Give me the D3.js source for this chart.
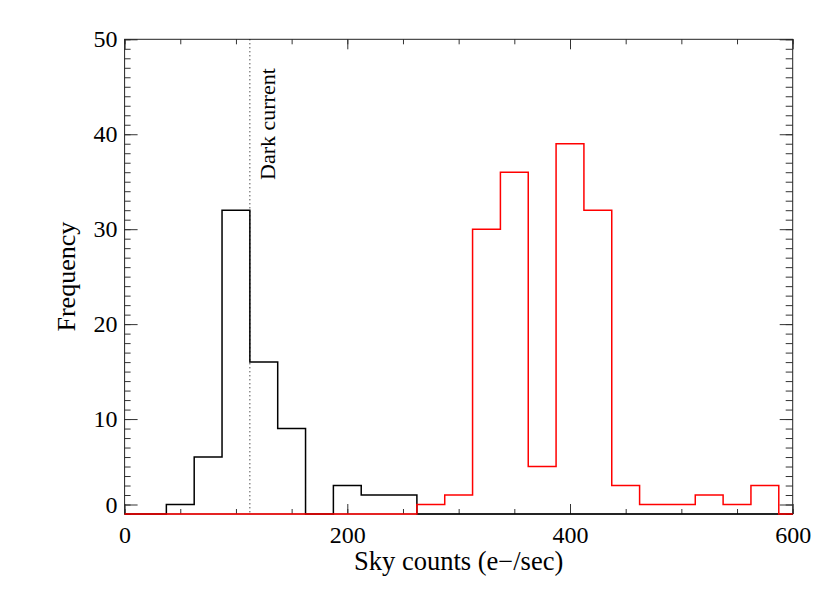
<!DOCTYPE html>
<html lang="en">
  <head>
    <meta charset="UTF-8" />
    <title>Sky counts histogram</title>
    <script src="https://d3js.org/d3.v7.min.js"></script>
    <style>
      body {
        margin: 0;
        padding: 0;
        background-color: #fff;
      }
      text {
        font-family: "Liberation Serif", "DejaVu Serif", serif;
        fill: #000;
      }
    </style>
  </head>
  <body>
    <div id="chart"></div>

    <script>
      // bin centres (e-/sec), every bin is 25 wide
      const binCenters = [25, 50, 75, 100, 125, 150, 175, 200, 225, 250, 275, 300, 325, 350, 375, 400, 425, 450, 475, 500, 525, 550, 575];
      const binWidth = 25;
      const blackCounts = [0, 1, 6, 32, 16, 9, 0, 3, 2, 2, 0, 0, 0, 0, 0, 0, 0, 0, 0, 0, 0, 0, 0];
      const redCounts = [0, 0, 0, 0, 0, 0, 0, 0, 0, 0, 1, 2, 30, 36, 5, 39, 32, 3, 1, 1, 2, 1, 3];
      const darkCurrent = 112.5;

      const xTicks = [0, 200, 400, 600];
      const xTickLabels = ["0", "200", "400", "600"];
      const yTicks = [1, 10, 20, 30, 40, 50];
      const yTickLabels = ["0", "10", "20", "30", "40", "50"];

      const width = 830;
      const height = 593;
      const plotL = 124.6, plotR = 792.7, plotT = 39.3, plotB = 514;

      const svg = d3.select("#chart").append("svg").attr("width", width).attr("height", height);

      const x = d3.scaleLinear().domain([0, 600]).range([plotL, plotR]);
      const y = d3.scaleLinear().domain([0, 50]).range([plotB, plotT]);

      const fontSize = 24;

      // minor ticks
      const xMinor = d3.range(0, 601, 50);
      const yMinor = d3.range(0, 51, 1);

      function styleAxis(g) {
        g.select(".domain").remove();
        g.selectAll(".tick line").attr("stroke", "#333").attr("stroke-width", 1);
        g.selectAll("text").attr("font-size", fontSize).attr("font-family", "Liberation Serif, serif");
      }

      svg.append("g").attr("transform", `translate(0,${plotB})`)
        .call(d3.axisBottom(x).tickValues(xMinor).tickSize(-5).tickFormat(""))
        .call(styleAxis);
      svg.append("g").attr("transform", `translate(0,${plotT})`)
        .call(d3.axisTop(x).tickValues(xMinor).tickSize(-5).tickFormat(""))
        .call(styleAxis);
      svg.append("g").attr("transform", `translate(${plotL},0)`)
        .call(d3.axisLeft(y).tickValues(yMinor).tickSize(-6).tickFormat(""))
        .call(styleAxis);
      svg.append("g").attr("transform", `translate(${plotR},0)`)
        .call(d3.axisRight(y).tickValues(yMinor).tickSize(-7).tickFormat(""))
        .call(styleAxis);

      // major ticks + labels
      svg.append("g").attr("transform", `translate(0,${plotB})`)
        .call(d3.axisBottom(x).tickValues(xTicks).tickSize(-10).tickPadding(12).tickFormat((d, i) => xTickLabels[i]))
        .call(styleAxis);
      svg.append("g").attr("transform", `translate(0,${plotT})`)
        .call(d3.axisTop(x).tickValues(xTicks).tickSize(-10).tickFormat(""))
        .call(styleAxis);
      svg.append("g").attr("transform", `translate(${plotL},0)`)
        .call(d3.axisLeft(y).tickValues(yTicks).tickSize(-13).tickPadding(7).tickFormat((d, i) => yTickLabels[i]))
        .call(styleAxis);
      svg.append("g").attr("transform", `translate(${plotR},0)`)
        .call(d3.axisRight(y).tickValues(yTicks).tickSize(-13).tickFormat(""))
        .call(styleAxis);

      // frame
      svg.append("rect")
        .attr("x", plotL).attr("y", plotT)
        .attr("width", plotR - plotL).attr("height", plotB - plotT)
        .attr("fill", "none").attr("stroke", "#222").attr("stroke-width", 1);

      // step histogram outline
      function stepPath(counts) {
        const p = d3.path();
        p.moveTo(x(0), y(0));
        binCenters.forEach((c, i) => {
          p.lineTo(x(c - binWidth / 2), y(i === 0 ? 0 : counts[i - 1]));
          p.lineTo(x(c - binWidth / 2), y(counts[i]));
        });
        const last = binCenters[binCenters.length - 1] + binWidth / 2;
        p.lineTo(x(last), y(counts[counts.length - 1]));
        p.lineTo(x(last), y(0));
        p.lineTo(x(600), y(0));
        return p.toString();
      }

      svg.append("path").attr("d", stepPath(blackCounts))
        .attr("fill", "none").attr("stroke", "#000").attr("stroke-width", 1.5);
      svg.append("path").attr("d", stepPath(redCounts))
        .attr("fill", "none").attr("stroke", "#ff0000").attr("stroke-width", 1.5);

      // dark current marker
      svg.append("line")
        .attr("x1", x(darkCurrent)).attr("x2", x(darkCurrent))
        .attr("y1", y(50)).attr("y2", y(0))
        .attr("stroke", "#000").attr("stroke-width", 1)
        .attr("stroke-dasharray", "1,3");

      svg.append("text")
        .attr("transform", `translate(${x(darkCurrent) + 25},180) rotate(-90)`)
        .attr("font-size", 22)
        .text("Dark current");

      // axis titles
      svg.append("text")
        .attr("x", (plotL + plotR) / 2).attr("y", 570)
        .attr("text-anchor", "middle")
        .attr("font-size", 26.5)
        .text("Sky counts (e\u2212/sec)");

      svg.append("text")
        .attr("transform", `translate(75,${(plotT + plotB) / 2}) rotate(-90)`)
        .attr("text-anchor", "middle")
        .attr("font-size", 26)
        .text("Frequency");
    </script>
  </body>
</html>
